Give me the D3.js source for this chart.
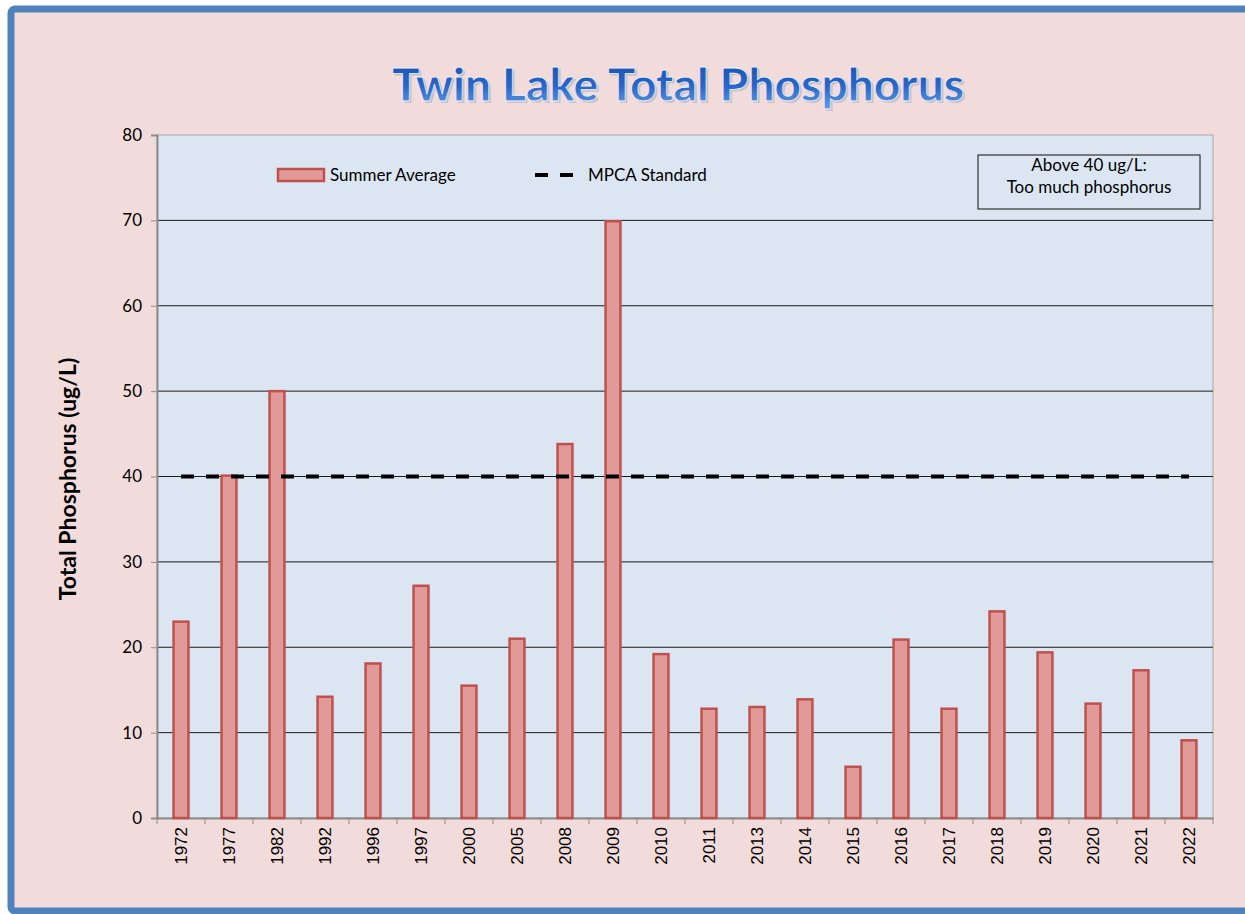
<!DOCTYPE html>
<html lang="en">
<head>
<meta charset="UTF-8" />
<title>Twin Lake Total Phosphorus</title>
<script src="https://d3js.org/d3.v7.min.js"></script>
<style>
  body { margin: 0; background: #fff; }
  svg { display: block; font-family: Lato, "Open Sans", sans-serif; }
</style>
</head>
<body>
<svg id="chart" width="1245" height="914"></svg>
<script>
// data
const years = ["1972","1977","1982","1992","1996","1997","2000","2005","2008","2009","2010",
               "2011","2013","2014","2015","2016","2017","2018","2019","2020","2021","2022"];
const summerAvg = [23, 40.1, 50, 14.2, 18.1, 27.2, 15.5, 21, 43.8, 69.9, 19.2,
                   12.8, 13, 13.9, 6, 20.9, 12.8, 24.2, 19.4, 13.4, 17.3, 9.1];
const mpcaStandard = 40;
const yTicks = [0, 10, 20, 30, 40, 50, 60, 70, 80];

const svg = d3.select("#chart");
const margin = { top: 135, right: 32, bottom: 96, left: 157 };
const width = 1245 - margin.left - margin.right;
const height = 914 - margin.top - margin.bottom;

// outer frame
svg.append("rect")
  .attr("x", 11).attr("y", 9)
  .attr("width", 1250).attr("height", 902)
  .attr("rx", 4)
  .attr("fill", "#f2dcdb")
  .attr("stroke", "#4f81bd")
  .attr("stroke-width", 7);

// title with gradient
const defs = svg.append("defs");
const grad = defs.append("linearGradient")
  .attr("id", "titleGrad").attr("x1", 0).attr("y1", 0).attr("x2", 0).attr("y2", 1);
grad.append("stop").attr("offset", "0%").attr("stop-color", "#1a4ea8");
grad.append("stop").attr("offset", "55%").attr("stop-color", "#2a66c6");
grad.append("stop").attr("offset", "100%").attr("stop-color", "#6aa2e6");

svg.append("text")
  .attr("x", 680).attr("y", 103)
  .attr("text-anchor", "middle")
  .attr("font-size", 46).attr("font-weight", 900)
  .attr("fill", "#b9b4c4").attr("opacity", 0.7)
  .text("Twin Lake Total Phosphorus");
svg.append("text")
  .attr("x", 678).attr("y", 101)
  .attr("text-anchor", "middle")
  .attr("font-size", 46).attr("font-weight", 900)
  .attr("fill", "url(#titleGrad)")
  .attr("stroke", "#e8f0fb").attr("stroke-width", 0.8)
  .text("Twin Lake Total Phosphorus");

const g = svg.append("g")
  .attr("transform", `translate(${margin.left},${margin.top})`);

const x = d3.scaleBand().domain(years).range([0, width]);
const y = d3.scaleLinear().domain([0, 80]).range([height, 0]);

// plot area
g.append("rect")
  .attr("width", width).attr("height", height)
  .attr("fill", "#dce6f2")
  .attr("stroke", "#a6a6a6").attr("stroke-width", 1);

// gridlines
g.selectAll(".grid")
  .data(yTicks.filter(d => d > 0 && d < 80))
  .enter().append("line")
  .attr("x1", 0).attr("x2", width)
  .attr("y1", d => y(d)).attr("y2", d => y(d))
  .attr("stroke", "#1a1a1a").attr("stroke-width", 1);

// y axis
const yAxis = g.append("g")
  .call(d3.axisLeft(y).tickValues(yTicks).tickSize(6).tickPadding(9));
yAxis.select(".domain").attr("stroke", "#8c8c8c").attr("stroke-width", 2);
yAxis.selectAll(".tick line").attr("stroke", "#8c8c8c");
yAxis.selectAll("text").attr("font-size", 17).attr("fill", "#000")
  .attr("font-family", "Lato, sans-serif");

// x axis
const xAxis = g.append("g")
  .attr("transform", `translate(0,${height})`)
  .call(d3.axisBottom(x).tickSize(0).tickFormat(""));
xAxis.select(".domain").attr("stroke", "#8c8c8c").attr("stroke-width", 2);
xAxis.selectAll(".tick").remove();
xAxis.selectAll(".btick")
  .data(d3.range(years.length + 1))
  .enter().append("line")
  .attr("x1", i => i * x.step()).attr("x2", i => i * x.step())
  .attr("y1", 0).attr("y2", 6)
  .attr("stroke", "#8c8c8c");
xAxis.selectAll(".xlabel")
  .data(years)
  .enter().append("text")
  .attr("transform", d => `translate(${x(d) + x.bandwidth() / 2},9) rotate(-90)`)
  .attr("text-anchor", "end")
  .attr("dy", "0.35em")
  .attr("font-size", 17)
  .attr("fill", "#000")
  .text(d => d);

// bars
const barW = x.bandwidth() * 0.31;
g.selectAll(".bar")
  .data(years.map((yr, i) => ({ yr, v: summerAvg[i] })))
  .enter().append("rect")
  .attr("x", d => x(d.yr) + (x.bandwidth() - barW) / 2)
  .attr("y", d => y(d.v))
  .attr("width", barW)
  .attr("height", d => height - y(d.v))
  .attr("fill", "#e29a99")
  .attr("stroke", "#c0504d")
  .attr("stroke-width", 2.5);

// MPCA standard line
g.append("line")
  .attr("x1", x(years[0]) + x.bandwidth() / 2)
  .attr("x2", x(years[years.length - 1]) + x.bandwidth() / 2)
  .attr("y1", y(mpcaStandard)).attr("y2", y(mpcaStandard))
  .attr("stroke", "#000").attr("stroke-width", 4)
  .attr("stroke-dasharray", "13,12");

// y axis title
svg.append("text")
  .attr("transform", "translate(76,479) rotate(-90)")
  .attr("text-anchor", "middle")
  .attr("font-size", 23).attr("font-weight", "bold")
  .text("Total Phosphorus (ug/L)");

// legend
const lg = svg.append("g");
lg.append("rect")
  .attr("x", 278).attr("y", 169).attr("width", 46).attr("height", 12)
  .attr("fill", "#e29a99").attr("stroke", "#c0504d").attr("stroke-width", 2.5);
lg.append("text")
  .attr("x", 330).attr("y", 181)
  .attr("font-size", 17)
  .text("Summer Average");
lg.append("line")
  .attr("x1", 535).attr("x2", 574).attr("y1", 175).attr("y2", 175)
  .attr("stroke", "#000").attr("stroke-width", 4)
  .attr("stroke-dasharray", "13,12");
lg.append("text")
  .attr("x", 588).attr("y", 181)
  .attr("font-size", 17)
  .text("MPCA Standard");

// note box
svg.append("rect")
  .attr("x", 978).attr("y", 155).attr("width", 222).attr("height", 54)
  .attr("fill", "#dce6f2").attr("stroke", "#333").attr("stroke-width", 1.2);
svg.append("text")
  .attr("x", 1089).attr("y", 171)
  .attr("text-anchor", "middle").attr("font-size", 17)
  .text("Above 40 ug/L:");
svg.append("text")
  .attr("x", 1089).attr("y", 193)
  .attr("text-anchor", "middle").attr("font-size", 17)
  .text("Too much phosphorus");
</script>
</body>
</html>
